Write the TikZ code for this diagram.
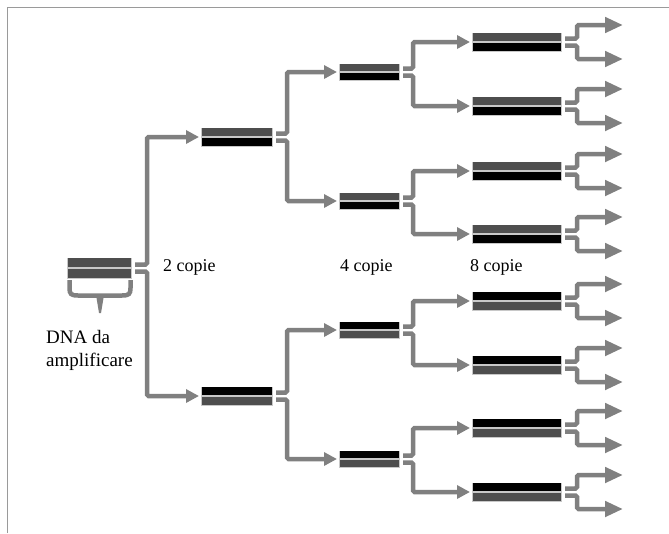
\documentclass[tikz,border=0pt]{standalone}
\usepackage{fontspec}
\setmainfont{Liberation Serif}
\usetikzlibrary{arrows.meta,calc}
\definecolor{conncol}{HTML}{808080}
\definecolor{strandgray}{HTML}{4E4E4E}
\definecolor{rimcol}{HTML}{C8C8C8}
\definecolor{framecol}{HTML}{9A9A9A}
\tikzset{
  dna/.style n args={4}{rectangle, inner sep=0pt, outer sep=0pt,
    minimum width=#1, minimum height=#2, fill=rimcol,
    path picture={
      \fill[#3] ([shift={(0.8pt,-0.8pt)}]path picture bounding box.north west)
        rectangle ([shift={(-0.8pt,1.3pt)}]path picture bounding box.east);
      \fill[#4] ([shift={(0.8pt,-1.3pt)}]path picture bounding box.west)
        rectangle ([shift={(-0.8pt,0.8pt)}]path picture bounding box.south east);
    }},
  conn/.style={draw=conncol, line width=4.5pt, rounded corners=1.5pt},
  arr/.style={conn, -{Triangle[length=13pt,width=13pt]}, shorten >=2pt},
  arrbig/.style={conn, -{Triangle[length=18pt,width=15pt]}},
  lbl/.style={inner sep=0pt, font=\fontsize{18}{22}\selectfont},
  dnalblstyle/.style={inner sep=0pt, align=left, font=\fontsize{19}{23}\selectfont},
  framestyle/.style={draw=framecol, line width=1pt},
}
\begin{document}
\begin{tikzpicture}[x=1pt,y=-1pt]
\useasboundingbox (0,0) rectangle (669,533);
% frame
\coordinate (fbl) at (7,533);
\coordinate (ftl) at (7,7);
\coordinate (ftr) at (669,7);
\draw[framestyle] (fbl) -- (ftl) -- (ftr);

% DNA molecules
\node[dna={65pt}{21pt}{strandgray}{strandgray}] (L0) at (99.5,268) {};
\node[dna={72pt}{19pt}{strandgray}{black}] (L1a) at (237,137) {};
\node[dna={72pt}{19pt}{black}{strandgray}] (L1b) at (237,396) {};
\node[dna={61pt}{17pt}{strandgray}{black}] (L2a) at (369.5,72) {};
\node[dna={61pt}{17pt}{strandgray}{black}] (L2b) at (369.5,201) {};
\node[dna={61pt}{17pt}{black}{strandgray}] (L2c) at (369.5,330) {};
\node[dna={61pt}{17pt}{black}{strandgray}] (L2d) at (369.5,459) {};
\node[dna={90pt}{19pt}{strandgray}{black}] (L3a) at (517,42) {};
\node[dna={90pt}{19pt}{strandgray}{black}] (L3b) at (517,106) {};
\node[dna={90pt}{19pt}{strandgray}{black}] (L3c) at (517,171) {};
\node[dna={90pt}{19pt}{strandgray}{black}] (L3d) at (517,234) {};
\node[dna={90pt}{19pt}{black}{strandgray}] (L3e) at (517,301) {};
\node[dna={90pt}{19pt}{black}{strandgray}] (L3f) at (517,365) {};
\node[dna={90pt}{19pt}{black}{strandgray}] (L3g) at (517,428) {};
\node[dna={90pt}{19pt}{black}{strandgray}] (L3h) at (517,492) {};

% brace under the starting DNA
\fill[conncol] (96,295) -- (104,295) -- (101,313) -- (99,313) -- cycle;
\draw[conn, rounded corners=0pt] (69.5,280) -- (69.5,288)
  .. controls (69.5,294) and (71,295.5) .. (78,295.5) -- (122,295.5)
  .. controls (129,295.5) and (130.5,294) .. (130.5,288) -- (130.5,280);

% level 0 -> level 1
\draw[arr] ([shift={(3pt,3.5pt)}]L0.east) -- ++(12,0) |- (L1a.west);
\draw[arr] ([shift={(3pt,-3.5pt)}]L0.east) -- ++(12,0) |- (L1b.west);
% level 1 -> level 2
\foreach \s/\a/\b in {L1a/L2a/L2b, L1b/L2c/L2d}{
  \draw[arr] ([shift={(3pt,3.5pt)}]\s.east) -- ++(11,0) |- (\a.west);
  \draw[arr] ([shift={(3pt,-3.5pt)}]\s.east) -- ++(11,0) |- (\b.west);
}
% level 2 -> level 3
\foreach \s/\a/\b in {L2a/L3a/L3b, L2b/L3c/L3d, L2c/L3e/L3f, L2d/L3g/L3h}{
  \draw[arr] ([shift={(3pt,3.5pt)}]\s.east) -- ++(10,0) |- (\a.west);
  \draw[arr] ([shift={(3pt,-3.5pt)}]\s.east) -- ++(10,0) |- (\b.west);
}
% level 3 -> out
\foreach \s/\y in {L3a/42, L3b/106, L3c/171, L3d/234, L3e/301, L3f/365, L3g/428, L3h/492}{
  \coordinate (\s up) at (623,\y-17);
  \coordinate (\s dn) at (623,\y+17);
  \draw[arrbig] ([shift={(3pt,3.5pt)}]\s.east) -- ++(12,0) |- (\s up);
  \draw[arrbig] ([shift={(3pt,-3.5pt)}]\s.east) -- ++(12,0) |- (\s dn);
}

% labels
\node[lbl, anchor=base west] (c2) at (163,271) {2 copie};
\node[lbl, anchor=base west] (c4) at (340,271) {4 copie};
\node[lbl, anchor=base west] (c8) at (470,271) {8 copie};
\node[dnalblstyle, anchor=north west] (dnalbl) at (46,330) {DNA da\\amplificare};
\end{tikzpicture}
\end{document}
